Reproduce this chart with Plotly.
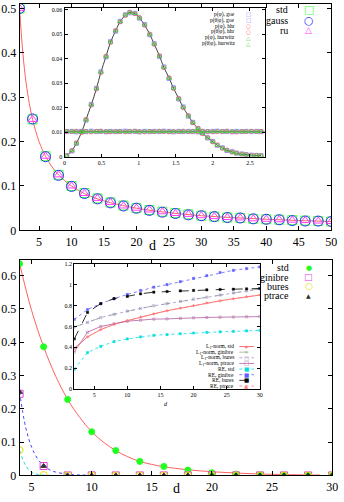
import plotly.graph_objects as go

W, H = 344, 502


def px(x):
    return x / W


def py(y):
    return 1 - y / H


SERIF = "Liberation Serif"
SYM = "DejaVu Sans"

# ---------------- top panel data ----------------
d_top = [2, 4, 6, 8, 10, 12, 14, 16, 18, 20, 22, 24, 26, 28, 30, 32, 34, 36, 38, 40, 42, 44, 46, 48, 50]
std_top = [0.500, 0.250, 0.167, 0.125, 0.100, 0.084, 0.072, 0.063, 0.056, 0.050, 0.046, 0.042, 0.039,
           0.036, 0.033, 0.031, 0.029, 0.028, 0.026, 0.025, 0.024, 0.023, 0.022, 0.021, 0.020]
gauss_top = [0.500, 0.251, 0.166, 0.124, 0.099, 0.083, 0.071, 0.062, 0.055, 0.050, 0.045, 0.041, 0.038,
             0.035, 0.033, 0.031, 0.029, 0.028, 0.026, 0.025, 0.024, 0.022, 0.021, 0.021, 0.020]
ru_top = [0.500, 0.250, 0.167, 0.125, 0.100, 0.083, 0.072, 0.063, 0.055, 0.050, 0.046, 0.042, 0.038,
          0.036, 0.033, 0.031, 0.029, 0.028, 0.026, 0.025, 0.024, 0.023, 0.022, 0.021, 0.020]
curve_top_d = [2, 2.5, 3, 3.5, 4, 5, 6, 7, 8, 10, 12, 14, 16, 20, 25, 30, 35, 40, 45, 50]
curve_top_v = [0.5, 0.4, 0.333, 0.286, 0.25, 0.2, 0.167, 0.143, 0.125, 0.1, 0.083, 0.071, 0.0625,
               0.05, 0.04, 0.033, 0.0286, 0.025, 0.0222, 0.02]
legend_top = ["std", "gauss", "ru"]

# top inset
phi = [0.03, 0.10, 0.16, 0.23, 0.29, 0.36, 0.43, 0.49, 0.56, 0.62, 0.69, 0.75, 0.82, 0.88, 0.95, 1.01,
       1.08, 1.15, 1.21, 1.28, 1.34, 1.41, 1.47, 1.54, 1.60, 1.67, 1.73, 1.80, 1.86, 1.93, 2.00, 2.06,
       2.13, 2.19, 2.26, 2.32, 2.39, 2.45, 2.52, 2.59, 2.65]
bell_theory = [0.0005, 0.0025, 0.0056, 0.0100, 0.0152, 0.0212, 0.0278, 0.0345, 0.0410, 0.0468, 0.0515,
               0.0552, 0.0578, 0.0590, 0.0585, 0.0568, 0.0538, 0.0500, 0.0460, 0.0412, 0.0365, 0.0322,
               0.0280, 0.0238, 0.0202, 0.0168, 0.0140, 0.0116, 0.0096, 0.0078, 0.0062, 0.0048, 0.0036,
               0.0027, 0.0020, 0.0015, 0.0011, 0.0009, 0.0007, 0.0006, 0.0005]
bell_goe = [0.0004, 0.0024, 0.0055, 0.0102, 0.0150, 0.0214, 0.0280, 0.0347, 0.0408, 0.0470, 0.0513,
            0.0553, 0.0580, 0.0588, 0.0586, 0.0566, 0.0540, 0.0498, 0.0462, 0.0410, 0.0367, 0.0320,
            0.0282, 0.0236, 0.0204, 0.0166, 0.0141, 0.0115, 0.0097, 0.0077, 0.0063, 0.0047, 0.0037,
            0.0026, 0.0021, 0.0015, 0.0012, 0.0009, 0.0007, 0.0006, 0.0005]
bell_hhr = [0.0005, 0.0026, 0.0057, 0.0099, 0.0153, 0.0211, 0.0277, 0.0344, 0.0411, 0.0467, 0.0516,
            0.0551, 0.0577, 0.0591, 0.0584, 0.0569, 0.0537, 0.0501, 0.0459, 0.0413, 0.0364, 0.0323,
            0.0279, 0.0239, 0.0201, 0.0169, 0.0139, 0.0117, 0.0095, 0.0079, 0.0061, 0.0049, 0.0035,
            0.0028, 0.0020, 0.0016, 0.0011, 0.0009, 0.0006, 0.0006, 0.0004]
bell_hurwitz = [0.0005, 0.0025, 0.0056, 0.0101, 0.0151, 0.0213, 0.0279, 0.0346, 0.0409, 0.0469, 0.0514,
                0.0552, 0.0579, 0.0589, 0.0585, 0.0567, 0.0539, 0.0499, 0.0461, 0.0411, 0.0366, 0.0321,
                0.0281, 0.0237, 0.0203, 0.0167, 0.0140, 0.0116, 0.0096, 0.0078, 0.0062, 0.0048, 0.0036,
                0.0027, 0.0020, 0.0015, 0.0011, 0.0009, 0.0007, 0.0006, 0.0005]
flat_goe = [0.0103, 0.0104, 0.0102, 0.0104, 0.0103, 0.0105, 0.0103, 0.0104, 0.0102, 0.0104, 0.0103,
            0.0104, 0.0105, 0.0103, 0.0104, 0.0102, 0.0104, 0.0103, 0.0104, 0.0103, 0.0105, 0.0104,
            0.0102, 0.0104, 0.0103, 0.0104, 0.0103, 0.0102, 0.0104, 0.0103, 0.0104, 0.0105, 0.0103,
            0.0104, 0.0102, 0.0104, 0.0103, 0.0104, 0.0103, 0.0104, 0.0103]
flat_hhr = [0.0104, 0.0103, 0.0105, 0.0103, 0.0104, 0.0102, 0.0104, 0.0105, 0.0103, 0.0102, 0.0104,
            0.0103, 0.0102, 0.0104, 0.0105, 0.0103, 0.0102, 0.0104, 0.0103, 0.0105, 0.0103, 0.0102,
            0.0104, 0.0103, 0.0105, 0.0103, 0.0104, 0.0103, 0.0105, 0.0104, 0.0102, 0.0103, 0.0104,
            0.0105, 0.0103, 0.0101, 0.0104, 0.0103, 0.0105, 0.0103, 0.0104]
flat_hurwitz = [0.0104, 0.0104, 0.0103, 0.0104, 0.0104, 0.0103, 0.0104, 0.0103, 0.0104, 0.0104, 0.0103,
                0.0104, 0.0103, 0.0104, 0.0104, 0.0103, 0.0104, 0.0104, 0.0103, 0.0104, 0.0104, 0.0103,
                0.0104, 0.0104, 0.0103, 0.0104, 0.0104, 0.0103, 0.0104, 0.0104, 0.0103, 0.0104, 0.0104,
                0.0103, 0.0104, 0.0104, 0.0103, 0.0104, 0.0104, 0.0103, 0.0104]
flat_theory_phi = [0.0, 2.7]
flat_theory_p = [0.0104, 0.0104]
legend_inset_top = ["p(φ), goe", "p(θ|φ), goe", "p(φ), hhr", "p(θ|φ), hhr", "p(φ), hurwitz", "p(θ|φ), hurwitz"]

# ---------------- bottom panel data ----------------
d_bot = [4, 6, 8, 10, 12, 14, 16, 18, 20, 22, 24, 26, 28, 30]
std_bot = [0.635, 0.386, 0.228, 0.131, 0.0745, 0.042, 0.027, 0.016, 0.008, 0.004, 0.002, 0.001, 0.0005, 0.0]
ginibre_bot = [0.245, 0.028, 0, 0, 0, 0, 0, 0, 0, 0, 0, 0, 0, 0]
bures_bot = [0.076, 0.001, 0, 0, 0, 0, 0, 0, 0, 0, 0, 0, 0, 0]
ptrace_bot = [0.25, 0.028, 0, 0, 0, 0, 0, 0, 0, 0, 0, 0, 0, 0]
red_d = [4, 5, 6, 7, 8, 9, 10, 11, 12, 13, 14, 15, 16, 18, 20, 22, 24, 26, 28, 29]
red_v = [0.635, 0.495, 0.386, 0.298, 0.228, 0.174, 0.131, 0.099, 0.0745, 0.056, 0.042, 0.033, 0.026,
         0.017, 0.011, 0.007, 0.004, 0.0025, 0.0015, 0.001]
blue_d = [4, 4.5, 5, 5.5, 6, 6.5, 7, 8, 9, 10]
blue_v = [0.25, 0.145, 0.085, 0.05, 0.029, 0.017, 0.010, 0.0035, 0.0012, 0.0004]
cyan_d = [4, 4.5, 5, 5.5, 6, 7]
cyan_v = [0.075, 0.03, 0.009, 0.003, 0.001, 0.0]
legend_bot = ["std", "ginibre", "bures", "ptrace"]

# bottom inset
d_in = [2, 4, 6, 8, 10, 12, 14, 16, 18, 20, 22, 24, 26, 28, 30]
l1_std = [0.39, 0.50, 0.57, 0.62, 0.655, 0.69, 0.72, 0.75, 0.775, 0.80, 0.825, 0.845, 0.865, 0.885, 0.90]
l1_ginibre = [0.594, 0.638, 0.684, 0.716, 0.747, 0.772, 0.797, 0.818, 0.84, 0.86, 0.88, 0.90, 0.92, 0.94, 0.96]
l1_bures = [0.594, 0.638, 0.684, 0.716, 0.747, 0.772, 0.797, 0.818, 0.84, 0.86, 0.88, 0.90, 0.92, 0.94, 0.96]
l1_ptrace = [0.355, 0.545, 0.60, 0.625, 0.65, 0.66, 0.67, 0.672, 0.678, 0.682, 0.686, 0.688, 0.69, 0.692, 0.694]
re_std = [0.19, 0.35, 0.41, 0.455, 0.48, 0.50, 0.515, 0.522, 0.53, 0.537, 0.543, 0.548, 0.553, 0.558, 0.562]
re_ginibre = [0.668, 0.762, 0.818, 0.866, 0.906, 0.944, 0.975, 1.0, 1.028, 1.06, 1.085, 1.116, 1.137, 1.153, 1.169]
re_bures = [0.48, 0.734, 0.818, 0.866, 0.888, 0.912, 0.928, 0.934, 0.94, 0.944, 0.95, 0.953, 0.956, 0.959, 0.963]
re_ptrace = [0.39, 0.50, 0.57, 0.62, 0.655, 0.69, 0.72, 0.75, 0.775, 0.80, 0.825, 0.845, 0.865, 0.885, 0.90]
legend_inset_bot = ["L<sub>1</sub>-norm, std", "L<sub>1</sub>-norm, ginibre", "L<sub>1</sub>-norm, bures",
                    "L<sub>1</sub>-norm, ptrace", "RE, std", "RE, ginibre", "RE, bures", "RE, ptrace"]

fig = go.Figure()

# ---------- top main ----------
fig.add_trace(go.Scatter(x=curve_top_d, y=curve_top_v, mode="lines", line=dict(color="#ff6060", width=1, shape="spline"),
                         xaxis="x", yaxis="y", showlegend=False, hoverinfo="skip"))
fig.add_trace(go.Scatter(x=d_top, y=std_top, mode="markers", name="std",
                         marker=dict(symbol="square-open", size=9, color="#40ff40", line=dict(width=1)),
                         xaxis="x", yaxis="y", showlegend=False))
fig.add_trace(go.Scatter(x=d_top, y=gauss_top, mode="markers", name="gauss",
                         marker=dict(symbol="circle-open", size=10, color="#3030ff", line=dict(width=1)),
                         xaxis="x", yaxis="y", showlegend=False))
fig.add_trace(go.Scatter(x=d_top, y=ru_top, mode="markers", name="ru",
                         marker=dict(symbol="triangle-up-open", size=8, color="#ff40ff", line=dict(width=1)),
                         xaxis="x", yaxis="y", showlegend=False))

# ---------- top inset ----------
fig.add_trace(go.Scatter(x=phi, y=bell_theory, mode="lines", line=dict(color="#404040", width=1, shape="spline"),
                         xaxis="x2", yaxis="y2", showlegend=False, hoverinfo="skip"))
fig.add_trace(go.Scatter(x=flat_theory_phi, y=flat_theory_p, mode="lines", line=dict(color="#707070", width=1),
                         xaxis="x2", yaxis="y2", showlegend=False, hoverinfo="skip"))
inset_top_series = [
    (bell_goe, "square-open", "#8080ff"), (flat_goe, "square-open", "#8080ff"),
    (bell_hhr, "circle-open", "#ff6060"), (flat_hhr, "circle-open", "#ff6060"),
    (bell_hurwitz, "triangle-up-open", "#30d030"), (flat_hurwitz, "triangle-up-open", "#30d030"),
]
for (vals, sym, col), name in zip(inset_top_series, legend_inset_top):
    fig.add_trace(go.Scatter(x=phi, y=vals, mode="markers", name=name,
                             marker=dict(symbol=sym, size=4, color=col, line=dict(width=0.8)),
                             xaxis="x2", yaxis="y2", showlegend=False))

# ---------- bottom main ----------
fig.add_trace(go.Scatter(x=red_d, y=red_v, mode="lines", line=dict(color="#ff6060", width=1, shape="spline"),
                         xaxis="x3", yaxis="y3", showlegend=False, hoverinfo="skip"))
fig.add_trace(go.Scatter(x=blue_d, y=blue_v, mode="lines", line=dict(color="#4040ff", width=1, dash="dot", shape="spline"),
                         xaxis="x3", yaxis="y3", showlegend=False, hoverinfo="skip"))
fig.add_trace(go.Scatter(x=cyan_d, y=cyan_v, mode="lines", line=dict(color="#00d8d8", width=1, dash="dot", shape="spline"),
                         xaxis="x3", yaxis="y3", showlegend=False, hoverinfo="skip"))
bot_series = [
    (std_bot, "circle", 6, "#20ff20"), (ginibre_bot, "square-open", 7, "#e040e0"),
    (bures_bot, "circle-open", 7, "#e8e000"), (ptrace_bot, "triangle-up", 5, "#303030"),
]
for (vals, sym, sz, col), name in zip(bot_series, legend_bot):
    fig.add_trace(go.Scatter(x=d_bot, y=vals, mode="markers", name=name,
                             marker=dict(symbol=sym, size=sz, color=col, line=dict(width=1, color=col)),
                             xaxis="x3", yaxis="y3", showlegend=False))

# ---------- bottom inset ----------
inset_bot_series = [
    (l1_std, "#ff5050", "solid", "cross-thin-open"),
    (l1_ginibre, "#90b090", "dash", "x-thin-open"),
    (l1_bures, "#a090c8", "dot", "square-open"),
    (l1_ptrace, "#b060a0", "solid", "square-open"),
    (re_std, "#00e0e0", "dot", "square"),
    (re_ginibre, "#6060ff", "dot", "square"),
    (re_bures, "#000000", "dash", "square"),
    (re_ptrace, "#ff8080", "dot", "triangle-up"),
]
for (vals, col, dash, sym), name in zip(inset_bot_series, legend_inset_bot):
    fig.add_trace(go.Scatter(x=d_in, y=vals, mode="lines+markers", name=name,
                             line=dict(color=col, width=0.8, dash=dash),
                             marker=dict(symbol=sym, size=2.2, color=col, line=dict(width=0.5, color=col)),
                             xaxis="x4", yaxis="y4", showlegend=False))


def axis(domain, rng, dtick, size, ticklen, anchor, **kw):
    d = dict(domain=domain, range=rng, dtick=dtick, anchor=anchor, showline=True, linecolor="black",
             linewidth=1, mirror="allticks", ticks="inside", ticklen=ticklen, tickcolor="black",
             tickwidth=1, showgrid=False, zeroline=False,
             tickfont=dict(family=SERIF, size=size, color="black"))
    d.update(kw)
    return d


layout = dict(
    width=W, height=H, autosize=False, margin=dict(l=0, r=0, t=0, b=0),
    paper_bgcolor="white", plot_bgcolor="white", showlegend=False,
    font=dict(family=SERIF, color="black"),
    xaxis=axis([px(18), px(337)], [2, 50], 5, 12, 4, "y"),
    yaxis=axis([py(232), py(1)], [0, 0.51], 0.1, 12, 4, "x"),
    xaxis2=axis([px(64), px(269)], [0, 2.7], 0.5, 6, 3, "y2"),
    yaxis2=axis([py(157), py(5)], [0, 0.0608], 0.01, 6, 3, "x2"),
    xaxis3=axis([px(18), px(338)], [4, 30], 5, 12, 4, "y3"),
    yaxis3=axis([py(482), py(262)], [0, 0.647], 0.1, 12, 4, "x3"),
    xaxis4=axis([px(74), px(264)], [2, 30], 5, 6, 3, "y4"),
    yaxis4=axis([py(394), py(266)], [0, 1.2], 0.2, 6, 3, "x4"),
)

annotations = []
shapes = []


def ann(x, y, text, size, color="black", xanchor="center", family=SERIF):
    annotations.append(dict(x=px(x), y=py(y), xref="paper", yref="paper", text=text, showarrow=False,
                            xanchor=xanchor, yanchor="middle", font=dict(family=family, size=size, color=color)))


# axis labels
ann(154, 247, "d", 14)
ann(179, 495, "d", 14)
ann(168, 409, "<i>d</i>", 6)

# top legend
for i, (lab, glyph, col, gs) in enumerate(zip(legend_top, ["□", "○", "△"], ["#40ff40", "#3030ff", "#ff40ff"], [11, 11, 9])):
    yy = [7, 18, 28][i]
    ann(295, yy, lab, 10, xanchor="right")
    ann(314, yy, glyph, gs, color=col, family=SYM)

# bottom legend
for i, (lab, glyph, col, gs) in enumerate(zip(legend_bot, ["●", "□", "○", "▲"], ["#20ff20", "#e040e0", "#e8e000", "#303030"], [7, 9, 9, 6])):
    yy = [270, 280, 289, 298][i]
    ann(296, yy, lab, 10, xanchor="right")
    ann(314, yy, glyph, gs, color=col, family=SYM)

# top inset legend
for i, (lab, (vals, sym, col)) in enumerate(zip(legend_inset_top, inset_top_series)):
    yy = 11.5 + i * 6
    glyph = {"square-open": "□", "circle-open": "○", "triangle-up-open": "△"}[sym]
    ann(241, yy, lab, 5.5, xanchor="right")
    ann(252, yy, glyph, 5.5, color=col, family=SYM)

# bottom inset legend
glyphs_bot = {"cross-thin-open": "+", "x-thin-open": "×", "square-open": "□", "square": "■", "triangle-up": "▲"}
for i, (lab, (vals, col, dash, sym)) in enumerate(zip(legend_inset_bot, inset_bot_series)):
    yy = 350.5 + i * 5.75
    ann(240, yy, lab, 5.5, xanchor="right")
    shapes.append(dict(type="line", xref="paper", yref="paper", x0=px(243), x1=px(258), y0=py(yy), y1=py(yy),
                       line=dict(color=col, width=0.8, dash=dash)))
    ann(250.5, yy, glyphs_bot[sym], 5.5, color=col, family=SYM)

layout["annotations"] = annotations
layout["shapes"] = shapes
fig.update_layout(**layout)
fig.write_html("out.html", config={"displayModeBar": False},
               post_script="document.body.style.margin='0px';document.body.style.overflow='hidden';")
